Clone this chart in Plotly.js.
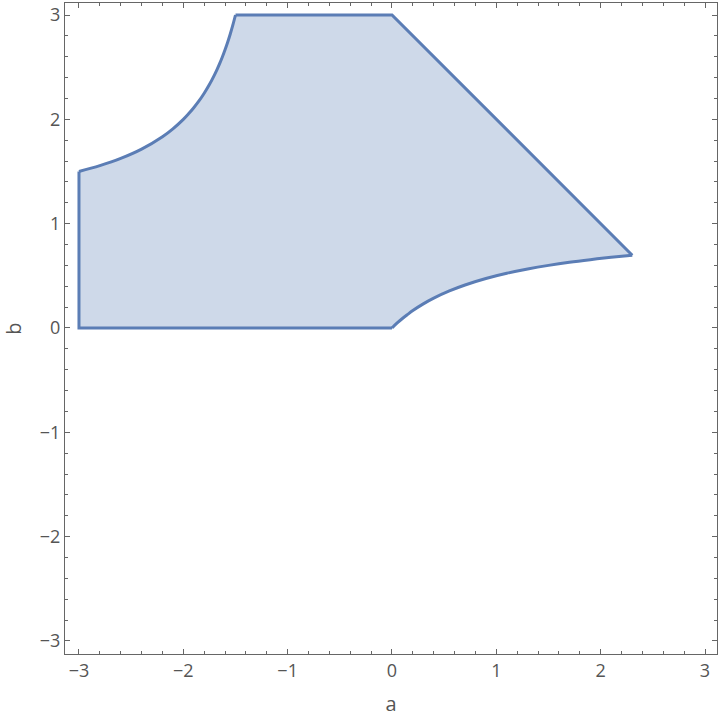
<!DOCTYPE html>
<html>
<head>
<meta charset="utf-8">
<script src="https://cdn.plot.ly/plotly-3.0.1.min.js"></script>
<style>html,body{margin:0;padding:0;background:#fff;}#chart{width:720px;height:718px;}</style>
</head>
<body>
<div id="chart"></div>
<script>
// Left edge of region
const leftEdgeA = [-3, -3];
const leftEdgeB = [0, 1.5];
// Upper-left curved boundary
const upperCurveA = [-3, -2.8, -2.6, -2.4, -2.2, -2.1, -2, -1.95, -1.9, -1.85, -1.8, -1.75, -1.7, -1.675, -1.65, -1.625, -1.6, -1.575, -1.55, -1.525, -1.5];
const upperCurveB = [1.5, 1.556, 1.625, 1.714, 1.833, 1.909, 2.0, 2.053, 2.111, 2.176, 2.25, 2.333, 2.429, 2.481, 2.538, 2.6, 2.667, 2.739, 2.818, 2.905, 3.0];
// Top edge and diagonal edge
const topEdgeA = [-1.5, 0, 2.303];
const topEdgeB = [3, 3, 0.697];
// Lower-right curved boundary, from right tip back to origin
const lowerCurveA = [2.303, 2.1, 1.9, 1.7, 1.5, 1.3, 1.1, 0.9, 0.7, 0.55, 0.4, 0.3, 0.2, 0.15, 0.1, 0.05, 0];
const lowerCurveB = [0.697, 0.677, 0.655, 0.63, 0.6, 0.565, 0.524, 0.474, 0.412, 0.355, 0.286, 0.231, 0.167, 0.13, 0.091, 0.048, 0];
// Bottom edge
const bottomEdgeA = [0, -3];
const bottomEdgeB = [0, 0];

const tickVals = [-3, -2, -1, 0, 1, 2, 3];
const tickText = ['\u22123', '\u22122', '\u22121', '0', '1', '2', '3'];

const lineColor = '#5b7db5';
const lineW = 3;

const xs = [].concat(leftEdgeA, upperCurveA.slice(1), topEdgeA.slice(1), lowerCurveA.slice(1), bottomEdgeA.slice(1));
const ys = [].concat(leftEdgeB, upperCurveB.slice(1), topEdgeB.slice(1), lowerCurveB.slice(1), bottomEdgeB.slice(1));

const fillTrace = {
  x: xs, y: ys,
  type: 'scatter', mode: 'lines',
  fill: 'toself',
  fillcolor: 'rgba(94,129,181,0.3)',
  line: {width: 0, color: 'rgba(0,0,0,0)'},
  hoverinfo: 'skip'
};
function edge(a, b, shape) {
  return {x: a, y: b, type: 'scatter', mode: 'lines', hoverinfo: 'skip',
    line: {color: lineColor, width: lineW, shape: shape, smoothing: 1}};
}
// bottom edge followed by left edge, drawn as one polyline so the corner joins
const straightA = [].concat(bottomEdgeA, leftEdgeA.slice(1));
const straightB = [].concat(bottomEdgeB, leftEdgeB.slice(1));

const traces = [
  fillTrace,
  edge(straightA, straightB, 'linear'),
  edge(upperCurveA, upperCurveB, 'spline'),
  edge(topEdgeA, topEdgeB, 'linear'),
  edge(lowerCurveA, lowerCurveB, 'spline')
];

const fontFam = 'Open Sans, DejaVu Sans, sans-serif';
const axisCommon = {
  showgrid: false, zeroline: false,
  showline: true, linecolor: '#666', linewidth: 1, mirror: 'ticks',
  ticks: 'inside', ticklen: 5, tickcolor: '#666', tickwidth: 1,
  tickvals: tickVals, ticktext: tickText,
  tickfont: {family: fontFam, size: 18, color: '#555'},
  minor: {ticks: 'inside', ticklen: 3, tickcolor: '#666', dtick: 0.2, tick0: 0, showgrid: false}
};

const layout = {
  width: 720, height: 718,
  margin: {l: 65, r: 3, t: 3, b: 64},
  paper_bgcolor: '#fff', plot_bgcolor: '#fff',
  showlegend: false,
  xaxis: Object.assign({}, axisCommon, {
    range: [-3.134, 3.115],
    title: {text: 'a', font: {family: fontFam, size: 20, color: '#555'}, standoff: 16}
  }),
  yaxis: Object.assign({}, axisCommon, {
    range: [-3.125, 3.115],
    title: {text: 'b', font: {family: fontFam, size: 20, color: '#555'}, standoff: 24}
  })
};

Plotly.newPlot('chart', traces, layout, {displayModeBar: false, staticPlot: true});
</script>
</body>
</html>
